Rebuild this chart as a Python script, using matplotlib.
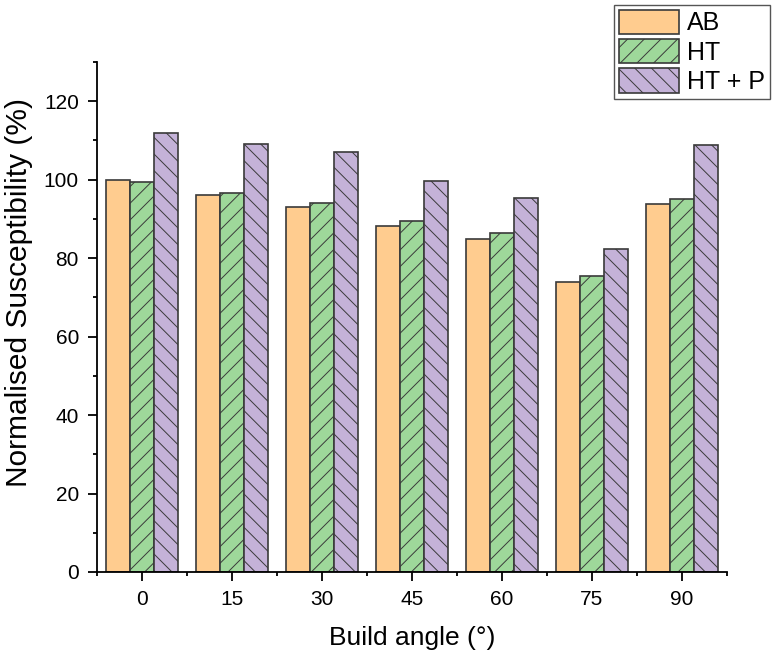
import numpy as np
import matplotlib.pyplot as plt
from matplotlib.patches import Patch

plt.rcParams['font.family'] = ['Liberation Sans', 'DejaVu Sans']
plt.rcParams['hatch.linewidth'] = 0.7

# ── Data ───────────────────────────────────────────────────────────────────────
ANGLES = ['0', '15', '30', '45', '60', '75', '90']
ab  = [100.0, 96.1, 93.1, 88.2, 85.0, 74.0, 93.7]
ht  = [99.4, 96.7, 94.1, 89.5, 86.5, 75.5, 95.1]
htp = [111.9, 109.1, 107.0, 99.7, 95.4, 82.4, 108.9]

SERIES = [
    ('AB',     ab,  '#FFCC8F', ''),
    ('HT',     ht,  '#9ED89A', '//'),
    ('HT + P', htp, '#C4B2D8', '\\\\'),
]

fig = plt.figure(figsize=(7.72, 6.57), dpi=100)
ax = fig.add_axes([0.1256, 0.1294, 0.816, 0.7762])

x = np.arange(len(ANGLES))
w = 0.267
for i, (name, vals, col, hatch) in enumerate(SERIES):
    ax.bar(x + (i - 1) * w, vals, width=w, color=col, edgecolor='#3a3a3a',
           linewidth=1.2, hatch=hatch, label=name)

ax.set_xlim(-0.5, 6.5)
ax.set_ylim(0, 130)
ax.set_xticks(x)
ax.set_xticklabels(ANGLES)
ax.set_xticks(np.arange(-0.5, 6.6, 1), minor=True)
ax.set_yticks(np.arange(0, 121, 20))
ax.set_yticks(np.arange(0, 131, 10), minor=True)

for s in ['top', 'right']:
    ax.spines[s].set_visible(False)
for s in ['left', 'bottom']:
    ax.spines[s].set_linewidth(1.3)
ax.tick_params(which='major', direction='out', length=6.5, width=1.3,
               labelsize=15, pad=6.5)
ax.tick_params(which='minor', direction='out', length=3, width=1.3)

ax.set_xlabel('Build angle (°)', fontsize=19, labelpad=12)
ax.set_ylabel('Normalised Susceptibility (%)', fontsize=21.5)
ax.yaxis.set_label_coords(-0.102, 0.548)

handles = [Patch(facecolor=c, edgecolor='#3a3a3a', hatch=h, linewidth=1.2, label=n)
           for n, _, c, h in SERIES]
fig.legend(handles=handles, loc='upper right', bbox_to_anchor=(0.997, 0.993),
           fontsize=18, fancybox=False, edgecolor='#555555', framealpha=1,
           handlelength=2.4, handleheight=1.12, handletextpad=0.3,
           borderpad=0.2, labelspacing=0.15, borderaxespad=0)

fig.savefig('out.png', dpi=100)
